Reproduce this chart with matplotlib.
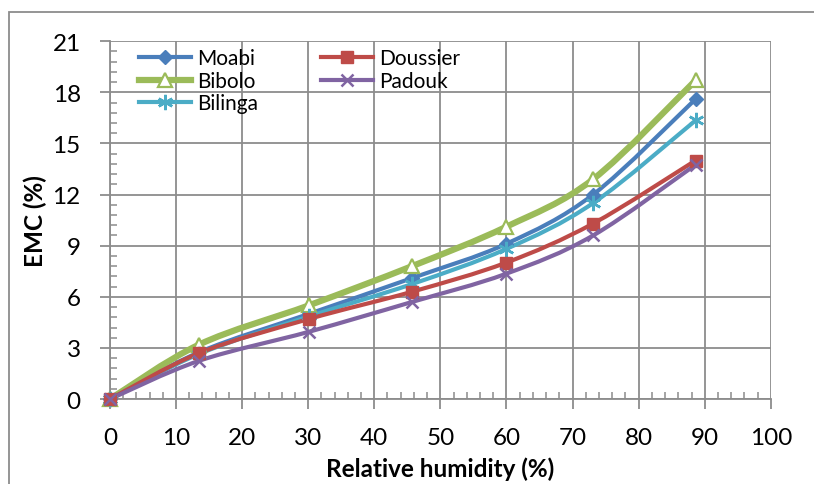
import numpy as np
import matplotlib.pyplot as plt
from matplotlib.path import Path
from matplotlib.patches import PathPatch, Rectangle
from matplotlib.ticker import MultipleLocator

plt.rcParams['font.family'] = ['Lato', 'DejaVu Sans']

rh = [0, 13.5, 30.1, 45.7, 59.9, 73.1, 88.6]
moabi = [0, 2.75, 5.0, 7.1, 9.1, 12.0, 17.6]
doussier = [0, 2.7, 4.7, 6.3, 8.0, 10.3, 14.0]
bibolo = [0, 3.2, 5.5, 7.8, 10.1, 12.9, 18.7]
padouk = [0, 2.25, 3.95, 5.7, 7.35, 9.6, 13.75]
bilinga = [0, 2.65, 4.85, 6.75, 8.8, 11.5, 16.35]

series = [
    ("Moabi", moabi, "#4A7EBB", "D", 3.0, dict(ms=7)),
    ("Bibolo", bibolo, "#9BBB59", "^", 4.5, dict(ms=10, mfc="white", mew=1.6)),
    ("Bilinga", bilinga, "#4BACC6", (6, 2, 0), 3.0, dict(ms=11, mew=1.8)),
    ("Doussier", doussier, "#BE4B48", "s", 3.0, dict(ms=9)),
    ("Padouk", padouk, "#8064A2", "x", 3.0, dict(ms=9, mew=1.8)),
]


def smooth_path(x, y):
    # Excel-style smoothed line drawn as cubic Bezier segments
    pts = np.column_stack([x, y]).astype(float)
    n = len(pts)
    verts = [pts[0]]
    codes = [Path.MOVETO]
    for i in range(n - 1):
        p0 = pts[max(i - 1, 0)]
        p1 = pts[i]
        p2 = pts[i + 1]
        p3 = pts[min(i + 2, n - 1)]
        c1 = p1 + (p2 - p0) / 6.0
        c2 = p2 - (p3 - p1) / 6.0
        verts += [c1, c2, p2]
        codes += [Path.CURVE4] * 3
    return Path(verts, codes)


fig = plt.figure(figsize=(8.14, 4.85), dpi=100)
ax = fig.add_axes([0.135, 0.175, 0.812, 0.738])

handles = []
for name, ys, color, marker, lw, mk in series:
    ax.add_patch(PathPatch(smooth_path(rh, ys), facecolor="none",
                           edgecolor=color, lw=lw, zorder=3,
                           capstyle="round"))
    ax.plot(rh, ys, linestyle="none", marker=marker, color=color,
            mec=color, zorder=4, clip_on=False, **mk)
    hl, = ax.plot([], [], color=color, lw=lw, marker=marker, mec=color, **mk)
    handles.append(hl)

ax.set_xlim(0, 100)
ax.set_ylim(0, 21)
ax.xaxis.set_major_locator(MultipleLocator(10))
ax.xaxis.set_minor_locator(MultipleLocator(2))
ax.yaxis.set_major_locator(MultipleLocator(3))
ax.yaxis.set_minor_locator(MultipleLocator(0.6))
ax.grid(True, which="major", color="#8c8c8c", lw=1.3)
ax.set_axisbelow(True)
for s in ("top", "right"):
    ax.spines[s].set_visible(False)
for s in ("left", "bottom"):
    ax.spines[s].set_color("#8c8c8c")
    ax.spines[s].set_linewidth(1.3)
ax.tick_params(which="major", direction="out", length=7, width=1.3,
               color="#8c8c8c", labelsize=17.5)
ax.tick_params(axis="x", which="major", pad=13)
ax.tick_params(axis="y", which="major", pad=14)
ax.tick_params(which="minor", direction="in", length=5, width=1.1,
               color="#8c8c8c")

ax.set_xlabel("Relative humidity (%)", fontsize=17.5, fontweight="bold",
              labelpad=6)
ax.set_ylabel("EMC (%)", fontsize=17.5, fontweight="bold", labelpad=4)

ax.legend(handles=handles, labels=[s[0] for s in series], ncol=2,
          loc="upper left", bbox_to_anchor=(0.025, 1.015), frameon=False,
          fontsize=15, handlelength=2.5, columnspacing=3.0,
          labelspacing=0.12, handletextpad=0.3, borderaxespad=0.2)

fig.patches.append(Rectangle((9 / 814, -0.1), 1.2, 1 - 13 / 485 + 0.1,
                             transform=fig.transFigure, fill=False,
                             edgecolor="#8c8c8c", lw=1.3))

fig.savefig("out.png", dpi=100, facecolor="white")
